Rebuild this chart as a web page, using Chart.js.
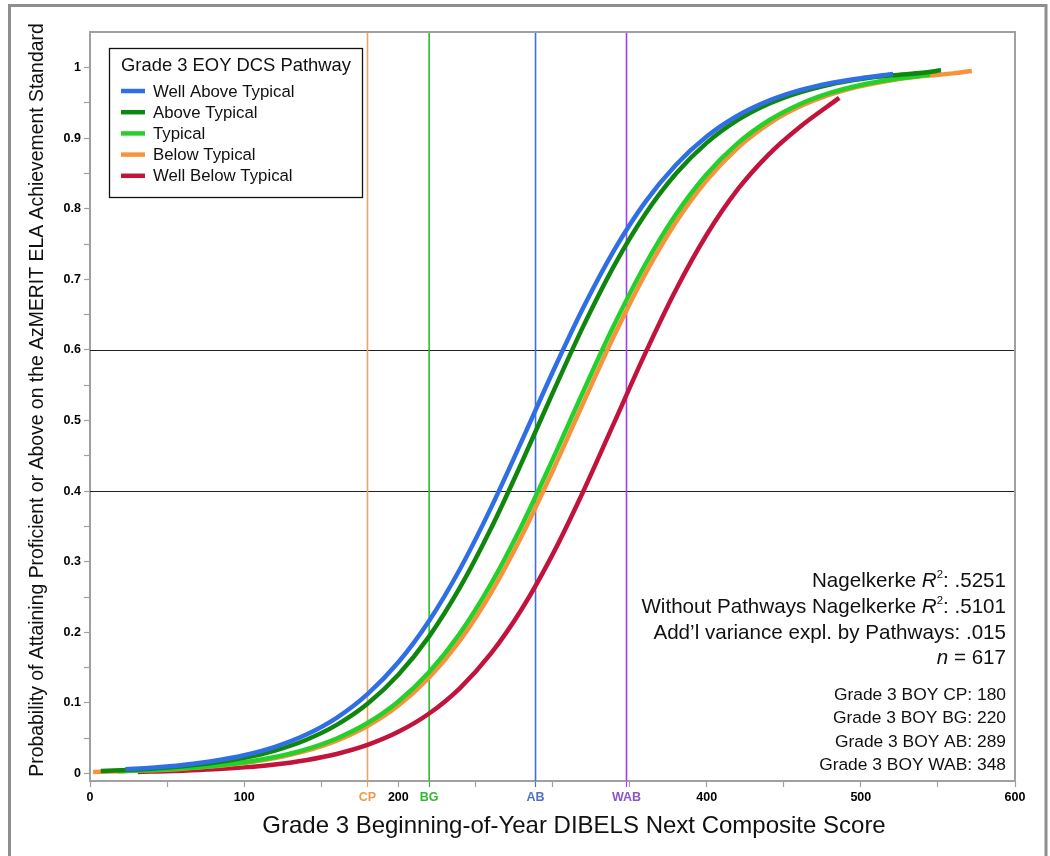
<!DOCTYPE html>
<html>
<head>
<meta charset="utf-8">
<title>Grade 3 BOY DIBELS Next and AzMERIT ELA proficiency</title>
<script src="https://cdn.jsdelivr.net/npm/chart.js@4.4.1/dist/chart.umd.min.js"></script>
<style>
  html, body { margin: 0; padding: 0; background: #fff; }
  #wrap { position: relative; width: 1050px; height: 856px; }
  canvas { display: block; }
</style>
</head>
<body>
<div id="wrap"><canvas id="chart" width="1050" height="856"></canvas></div>
<script>
// ---- Data: predicted probability of proficiency by BOY composite score ----
const pathways = ['Well Above Typical', 'Above Typical', 'Typical', 'Below Typical', 'Well Below Typical'];
const pathwayColors = ['#2f6fe6', '#0f870f', '#24d12b', '#f8933c', '#c1133b'];

const wellAboveX = [23, 40, 60, 80, 100, 120, 140, 160, 180, 200, 220, 240, 260, 280, 300, 320, 340, 360, 380, 400, 420, 440, 460, 480, 500, 521];
const wellAboveP = [0.0059, 0.0082, 0.0120, 0.0177, 0.0259, 0.0378, 0.0548, 0.0789, 0.1124, 0.1575, 0.2164, 0.2897, 0.3759, 0.4708, 0.5680, 0.6600, 0.7413, 0.8090, 0.8620, 0.9023, 0.9317, 0.9527, 0.9675, 0.9777, 0.9848, 0.9910];

const aboveX = [7, 20, 40, 60, 80, 100, 120, 140, 160, 180, 200, 220, 240, 260, 280, 300, 320, 340, 360, 380, 400, 420, 440, 460, 480, 500, 520, 540, 552];
const aboveP = [0.0036, 0.0047, 0.0069, 0.0102, 0.0151, 0.0222, 0.0325, 0.0475, 0.0689, 0.0988, 0.1399, 0.1943, 0.2635, 0.3466, 0.4403, 0.5384, 0.6337, 0.7195, 0.7918, 0.8494, 0.8932, 0.9254, 0.9484, 0.9646, 0.9759, 0.9836, 0.9889, 0.9925, 0.9960];

const typicalX = [18, 40, 60, 80, 100, 120, 140, 160, 180, 200, 220, 240, 260, 280, 300, 320, 340, 360, 380, 400, 420, 440, 460, 480, 500, 520, 545];
const typicalP = [0.0033, 0.0050, 0.0074, 0.0108, 0.0159, 0.0233, 0.0341, 0.0496, 0.0715, 0.1021, 0.1438, 0.1987, 0.2682, 0.3511, 0.4442, 0.5414, 0.6355, 0.7203, 0.7918, 0.8488, 0.8925, 0.9246, 0.9477, 0.9640, 0.9753, 0.9831, 0.9896];

const belowX = [2, 20, 40, 60, 80, 100, 120, 140, 160, 180, 200, 220, 240, 260, 280, 300, 320, 340, 360, 380, 400, 420, 440, 460, 480, 500, 520, 540, 560, 572];
const belowP = [0.0022, 0.0032, 0.0047, 0.0069, 0.0102, 0.0149, 0.0219, 0.0320, 0.0466, 0.0673, 0.0963, 0.1360, 0.1886, 0.2556, 0.3365, 0.4282, 0.5252, 0.6203, 0.7070, 0.7809, 0.8403, 0.8860, 0.9199, 0.9443, 0.9616, 0.9737, 0.9820, 0.9878, 0.9917, 0.9950];

const wellBelowX = [31, 40, 60, 80, 100, 120, 140, 160, 180, 200, 220, 240, 260, 280, 300, 320, 340, 360, 380, 400, 420, 440, 460, 486];
const wellBelowP = [0.0022, 0.0027, 0.0040, 0.0059, 0.0087, 0.0128, 0.0189, 0.0277, 0.0405, 0.0590, 0.0850, 0.1211, 0.1697, 0.2326, 0.3100, 0.3999, 0.4970, 0.5944, 0.6849, 0.7631, 0.8269, 0.8763, 0.9150, 0.9570];

// Benchmark cut scores (Grade 3 BOY)
const cutNames = ['CP', 'BG', 'AB', 'WAB'];
const cutScores = [180, 220, 289, 348];
const cutLabelColors = ['#f4994a', '#34b834', '#4f72c8', '#8b57c2'];
const cutLineColors = ['#f6a060', '#2bbf2b', '#3f6fe2', '#a33ef0'];

// Horizontal reference probabilities
const refProbs = [0.4, 0.6];

// Axis ticks
const xTickValues = [0, 50, 100, 150, 200, 250, 300, 350, 400, 450, 500, 550, 600];
const xTickLabels = ['0', '', '100', '', '200', '', '', '', '400', '', '500', '', '600'];
const yTickValues = [0, 0.05, 0.1, 0.15, 0.2, 0.25, 0.3, 0.35, 0.4, 0.45, 0.5, 0.55, 0.6, 0.65, 0.7, 0.75, 0.8, 0.85, 0.9, 0.95, 1];
const yTickLabels = ['0', '', '0.1', '', '0.2', '', '0.3', '', '0.4', '', '0.5', '', '0.6', '', '0.7', '', '0.8', '', '0.9', '', '1'];

// Model summary
const nagelkerke = '.5251';
const nagelkerkeWithout = '.5101';
const addlVariance = '.015';
const sampleN = '617';

const xTitle = 'Grade 3 Beginning-of-Year DIBELS Next Composite Score';
const yTitle = 'Probability of Attaining Proficient or Above on the AzMERIT ELA Achievement Standard';
const legendTitle = 'Grade 3 EOY DCS Pathway';

// ---- Build datasets ----
const seriesX = [wellAboveX, aboveX, typicalX, belowX, wellBelowX];
const seriesP = [wellAboveP, aboveP, typicalP, belowP, wellBelowP];
const FONT = "'Liberation Sans', Arial, Helvetica, sans-serif";
Chart.defaults.font.family = FONT;

const datasets = pathways.map((name, i) => ({
  label: name,
  data: seriesX[i].map((x, j) => ({ x: x, y: seriesP[i][j] })),
  borderColor: pathwayColors[i],
  backgroundColor: pathwayColors[i],
  borderWidth: 4.5,
  pointRadius: 0,
  fill: false,
  cubicInterpolationMode: 'monotone',
  borderCapStyle: 'butt'
}));

const allXTicks = xTickValues.concat(cutScores).sort((a, b) => a - b);
function xLabel(v) {
  const ci = cutScores.indexOf(v);
  if (ci >= 0) return cutNames[ci];
  const ti = xTickValues.indexOf(v);
  return ti >= 0 ? xTickLabels[ti] : '';
}
function xColor(v) {
  const ci = cutScores.indexOf(v);
  return ci >= 0 ? cutLabelColors[ci] : '#000';
}
function xTickMarkColor(v) {
  const ci = cutScores.indexOf(v);
  return ci >= 0 ? cutLineColors[ci] : '#a0a0a0';
}

// Reference lines under the curves
const referenceLines = {
  id: 'referenceLines',
  beforeDatasetsDraw(chart) {
    const { ctx, chartArea: a, scales: { x, y } } = chart;
    ctx.save();
    ctx.lineWidth = 1;
    ctx.strokeStyle = '#222';
    refProbs.forEach(p => {
      const py = Math.round(y.getPixelForValue(p)) + 0.5;
      ctx.beginPath(); ctx.moveTo(a.left, py); ctx.lineTo(a.right, py); ctx.stroke();
    });
    ctx.lineWidth = 1.6;
    cutScores.forEach((s, i) => {
      const px = x.getPixelForValue(s);
      ctx.strokeStyle = cutLineColors[i];
      ctx.beginPath(); ctx.moveTo(px, a.top); ctx.lineTo(px, a.bottom); ctx.stroke();
    });
    ctx.restore();
  }
};

// Frames, titles, legend and model summary
function drawRich(ctx, parts, rightX, baseY, size) {
  let w = 0;
  parts.forEach(p => {
    const s = p.sup ? size * 0.55 : size;
    ctx.font = (p.italic ? 'italic ' : '') + s + 'px ' + FONT;
    p.w = ctx.measureText(p.t).width;
    w += p.w;
  });
  let cx = rightX - w;
  parts.forEach(p => {
    const s = p.sup ? size * 0.55 : size;
    ctx.font = (p.italic ? 'italic ' : '') + s + 'px ' + FONT;
    ctx.fillText(p.t, cx, p.sup ? baseY - size * 0.42 : baseY);
    cx += p.w;
  });
}

const decorations = {
  id: 'decorations',
  beforeDraw(chart) {
    const { ctx, width, height } = chart;
    ctx.save();
    ctx.fillStyle = '#fff';
    ctx.fillRect(0, 0, width, height);
    ctx.restore();
  },
  afterDraw(chart) {
    const { ctx, chartArea: a } = chart;
    ctx.save();
    // outer panel frame
    ctx.strokeStyle = '#8e8e8e';
    ctx.lineWidth = 3;
    ctx.beginPath();
    ctx.moveTo(9.5, 900); ctx.lineTo(9.5, 5.5); ctx.lineTo(1046, 5.5); ctx.lineTo(1046, 900);
    ctx.stroke();
    // plot frame top and right
    ctx.strokeStyle = '#a0a0a0';
    ctx.lineWidth = 2;
    ctx.beginPath();
    ctx.moveTo(a.left - 1, a.top); ctx.lineTo(a.right, a.top); ctx.lineTo(a.right, a.bottom + 1);
    ctx.stroke();

    // axis titles
    ctx.fillStyle = '#111';
    ctx.textAlign = 'center';
    ctx.textBaseline = 'middle';
    ctx.font = '24px ' + FONT;
    ctx.fillText(xTitle, 574, 826);
    ctx.save();
    ctx.translate(38, 400);
    ctx.rotate(-Math.PI / 2);
    ctx.font = '19.4px ' + FONT;
    ctx.fillText(yTitle, 0, 0);
    ctx.restore();

    // legend box
    ctx.fillStyle = '#fff';
    ctx.fillRect(109.5, 48.5, 253, 149);
    ctx.strokeStyle = '#111';
    ctx.lineWidth = 1.3;
    ctx.strokeRect(109.5, 48.5, 253, 149);
    ctx.fillStyle = '#111';
    ctx.textAlign = 'left';
    ctx.textBaseline = 'alphabetic';
    ctx.font = '18.4px ' + FONT;
    ctx.fillText(legendTitle, 121, 71);
    ctx.font = '16.8px ' + FONT;
    ctx.textBaseline = 'middle';
    pathways.forEach((name, i) => {
      const yy = 91 + i * 21.2;
      ctx.strokeStyle = pathwayColors[i];
      ctx.lineWidth = 4.5;
      ctx.beginPath(); ctx.moveTo(121, yy); ctx.lineTo(145, yy); ctx.stroke();
      ctx.fillStyle = '#111';
      ctx.fillText(name, 153, yy + 1);
    });

    // model summary
    ctx.textBaseline = 'alphabetic';
    ctx.fillStyle = '#111';
    const R = 1006;
    drawRich(ctx, [{ t: 'Nagelkerke ' }, { t: 'R', italic: true }, { t: '2', sup: true }, { t: ': ' + nagelkerke }], R, 587, 20.6);
    drawRich(ctx, [{ t: 'Without Pathways Nagelkerke ' }, { t: 'R', italic: true }, { t: '2', sup: true }, { t: ': ' + nagelkerkeWithout }], R, 613, 20.6);
    drawRich(ctx, [{ t: 'Add\u2019l variance expl. by Pathways: ' + addlVariance }], R, 639, 20.6);
    drawRich(ctx, [{ t: 'n', italic: true }, { t: ' = ' + sampleN }], R, 664, 20.6);
    cutNames.forEach((c, i) => {
      drawRich(ctx, [{ t: 'Grade 3 BOY ' + c + ': ' + cutScores[i] }], R, 700 + i * 23.3, 17.4);
    });
    ctx.restore();
  }
};

new Chart(document.getElementById('chart'), {
  type: 'line',
  data: { datasets },
  plugins: [referenceLines, decorations],
  options: {
    responsive: false,
    animation: false,
    devicePixelRatio: 1,
    layout: { padding: { left: 0, right: 35, top: 32, bottom: 0 } },
    plugins: { legend: { display: false }, tooltip: { enabled: false } },
    scales: {
      x: {
        type: 'linear',
        min: 0,
        max: 600,
        afterBuildTicks: s => { s.ticks = allXTicks.map(v => ({ value: v })); },
        afterFit: s => { s.height = 75; },
        ticks: {
          autoSkip: false,
          maxRotation: 0,
          padding: 3,
          font: { size: 12.5, weight: 'bold' },
          color: c => xColor(c.tick.value),
          callback: v => xLabel(v)
        },
        grid: {
          drawOnChartArea: false,
          drawTicks: true,
          tickLength: 6,
          tickWidth: 1.2,
          tickColor: c => xTickMarkColor(c.tick ? c.tick.value : 0)
        },
        border: { color: '#a0a0a0', width: 2 }
      },
      y: {
        type: 'linear',
        min: -0.0106,
        max: 1.0503,
        afterBuildTicks: s => { s.ticks = yTickValues.map(v => ({ value: v })); },
        afterFit: s => { s.width = 90; },
        ticks: {
          autoSkip: false,
          padding: 3,
          font: { size: 12.5, weight: 'bold' },
          color: '#000',
          callback: v => { const i = yTickValues.indexOf(v); return i >= 0 ? yTickLabels[i] : ''; }
        },
        grid: {
          drawOnChartArea: false,
          drawTicks: true,
          tickLength: 6,
          tickWidth: 1.2,
          tickColor: '#a0a0a0'
        },
        border: { color: '#a0a0a0', width: 2 }
      }
    }
  }
});
</script>
</body>
</html>
